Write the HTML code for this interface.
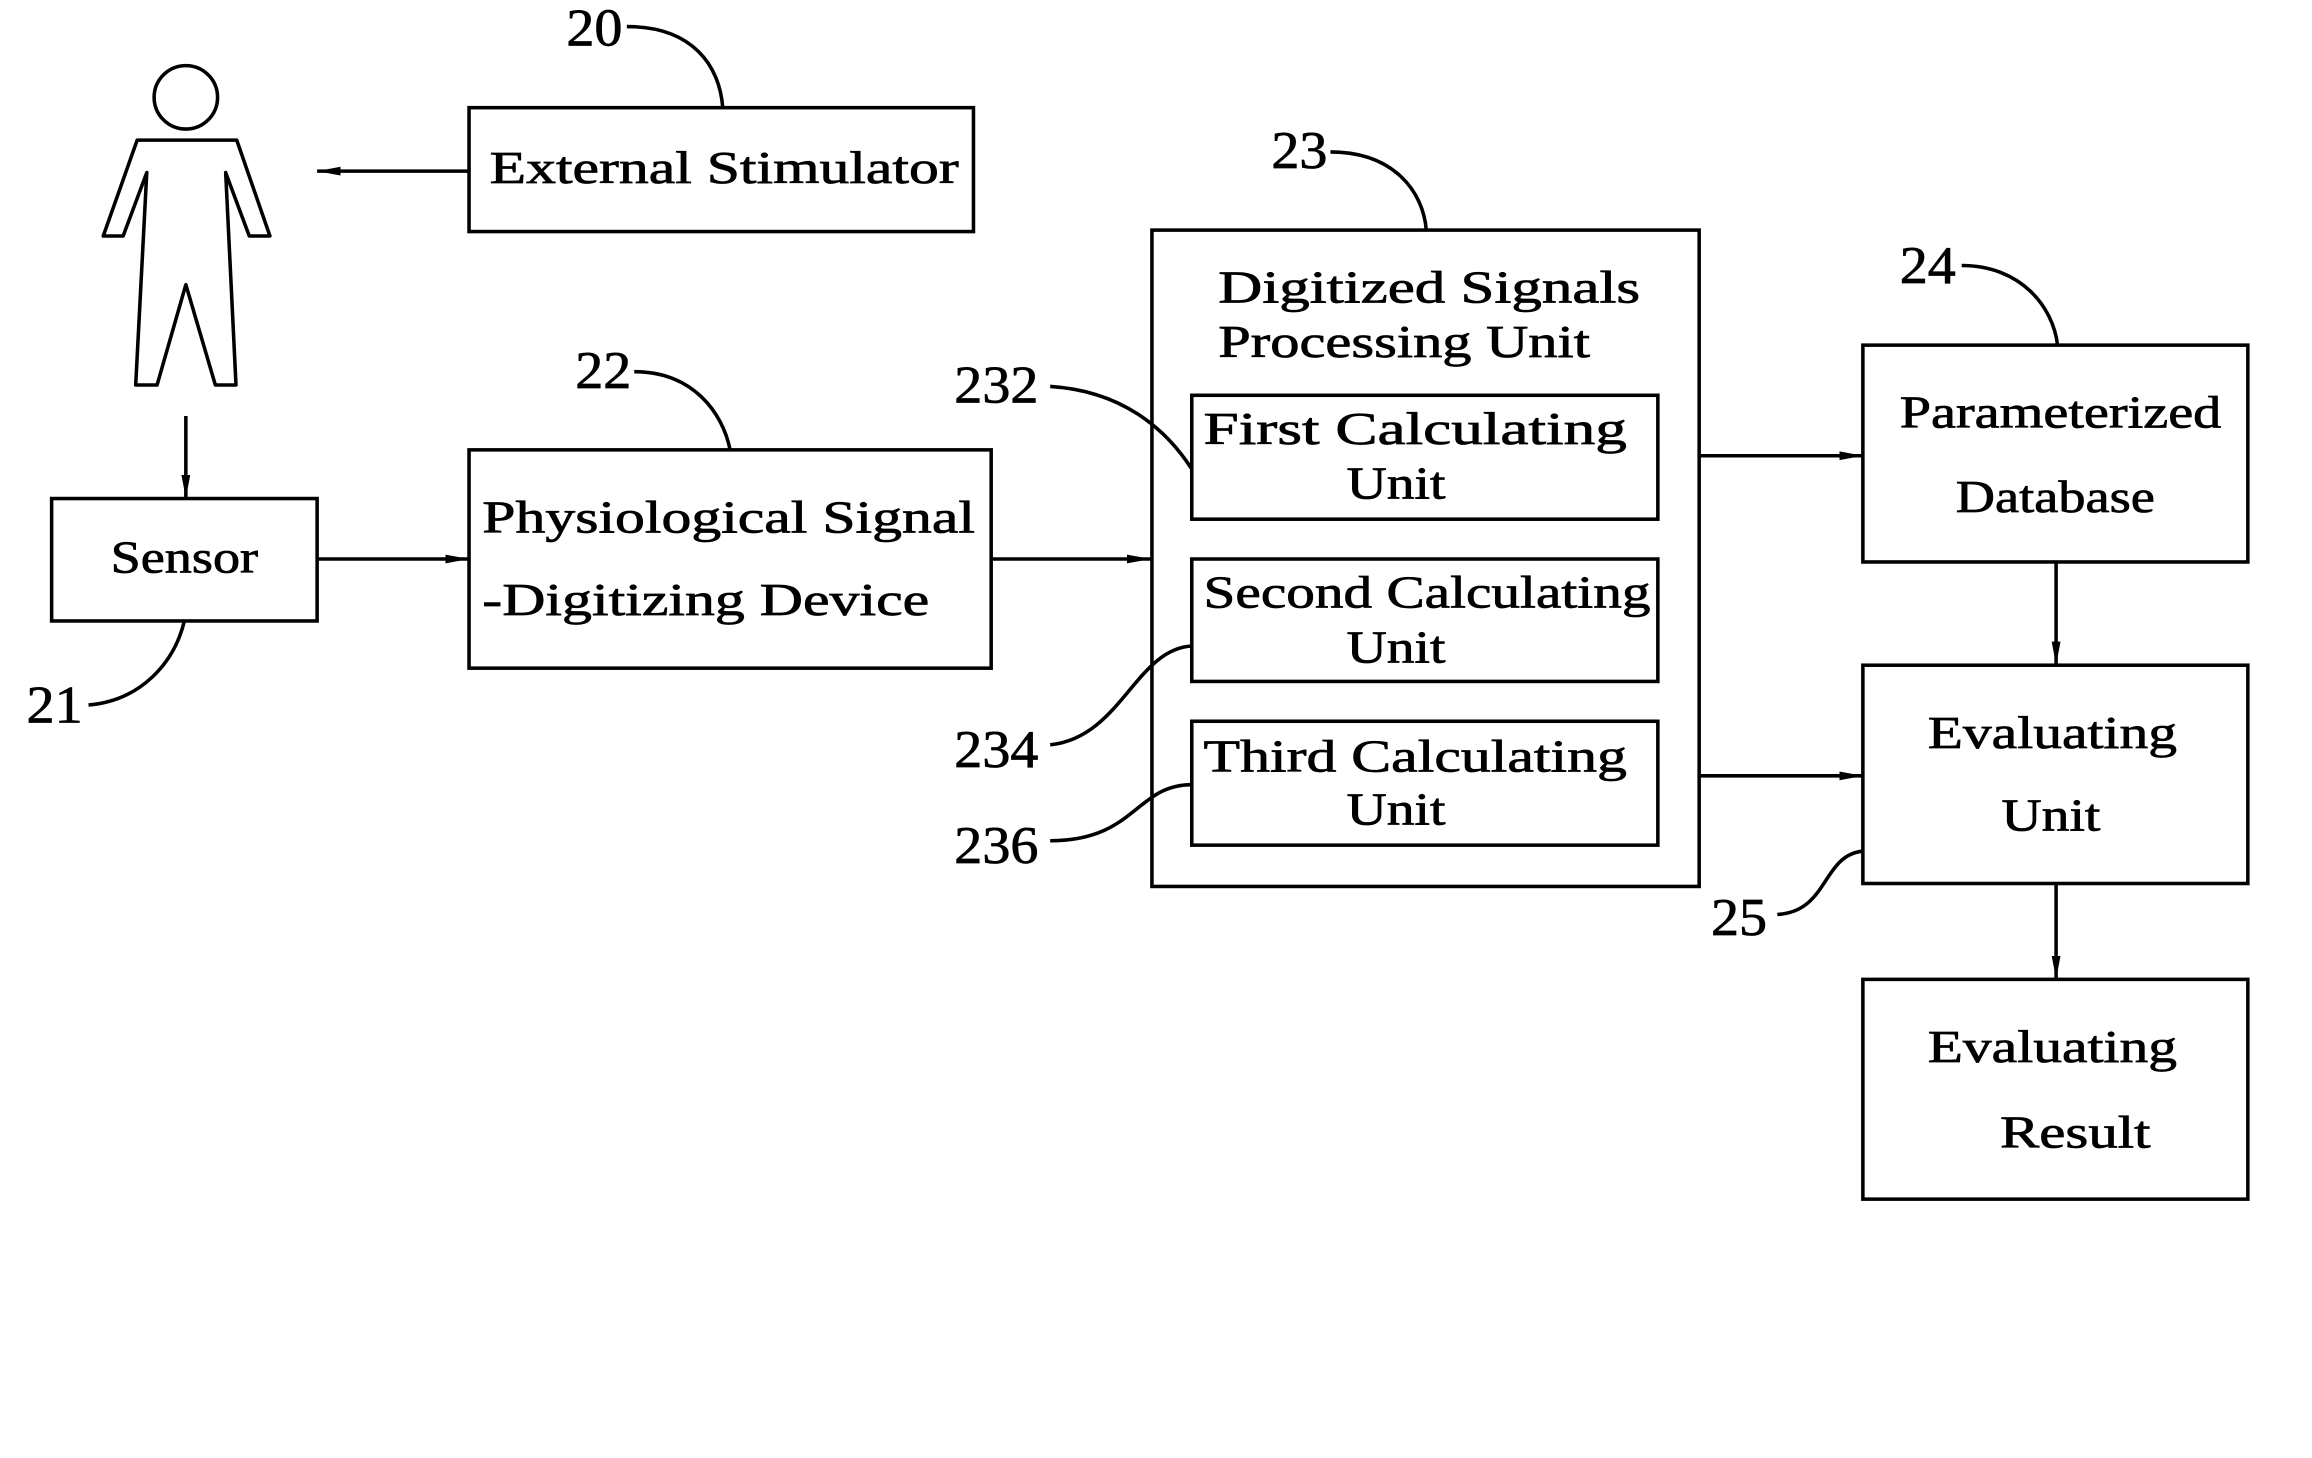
<!DOCTYPE html>
<html><head><meta charset="utf-8"><style>
html,body{margin:0;padding:0;background:#fff;}
svg{display:block;}
text{font-family:"Liberation Serif",serif;fill:#000;stroke:#000;stroke-width:0.5;}
.n{font-size:36px;}
.t{font-size:31px;}
</style></head><body>
<svg width="2312" height="1458" viewBox="0 0 1567.5 988.5" xmlns="http://www.w3.org/2000/svg">
<defs><marker id="a" markerWidth="16" markerHeight="8" refX="16" refY="4" orient="auto" markerUnits="userSpaceOnUse"><path d="M0,1 L16,4 L0,7 Z" fill="#000"/></marker></defs>
<g fill="none" stroke="#000" stroke-width="2.4">
<circle cx="126" cy="66" r="21.5"/>
<path d="M93,95 L160.5,95 L183,160 L169,160 L153,117 L160,261 L146,261 L126,193 L106.5,261 L92,261 L99.5,117 L83.5,160 L70,160 Z" stroke-linejoin="round"/>
<rect x="318" y="73" width="342" height="84"/>
<rect x="35" y="338" width="180" height="83"/>
<rect x="318" y="305" width="354" height="148"/>
<rect x="781" y="156" width="371" height="445"/>
<rect x="808" y="268" width="316" height="84"/>
<rect x="808" y="379" width="316" height="83"/>
<rect x="808" y="489" width="316" height="84"/>
<rect x="1263" y="234" width="261" height="147"/>
<rect x="1263" y="451" width="261" height="148"/>
<rect x="1263" y="664" width="261" height="149"/>
<path d="M318,116 L215,116" marker-end="url(#a)"/>
<path d="M126,282 L126,338" marker-end="url(#a)"/>
<path d="M215,379 L318,379" marker-end="url(#a)"/>
<path d="M672,379 L780,379" marker-end="url(#a)"/>
<path d="M1152,309 L1263,309" marker-end="url(#a)"/>
<path d="M1152,526 L1263,526" marker-end="url(#a)"/>
<path d="M1394,381 L1394,451" marker-end="url(#a)"/>
<path d="M1394,599 L1394,664" marker-end="url(#a)"/>
<path d="M425,18 C470,18 488,45 490,73"/>
<path d="M60,478 C95,475 118,450 125,421"/>
<path d="M430,252 C470,252 490,280 495,305"/>
<path d="M902,103 C945,103 965,130 967,156"/>
<path d="M712,262 C760,265 790,290 808,318"/>
<path d="M712,505 C760,500 770,440 808,438"/>
<path d="M712,570 C770,570 770,532 808,532"/>
<path d="M1330,180 C1370,180 1392,208 1395,234"/>
<path d="M1205,620 C1240,618 1235,580 1263,577"/>
</g>
<text class="n" x="384" y="31" textLength="38" lengthAdjust="spacingAndGlyphs">20</text>
<text class="n" x="18" y="490" textLength="38" lengthAdjust="spacingAndGlyphs">21</text>
<text class="n" x="390" y="263" textLength="38" lengthAdjust="spacingAndGlyphs">22</text>
<text class="n" x="862" y="114" textLength="38" lengthAdjust="spacingAndGlyphs">23</text>
<text class="n" x="1288" y="192" textLength="38" lengthAdjust="spacingAndGlyphs">24</text>
<text class="n" x="1160" y="634" textLength="38" lengthAdjust="spacingAndGlyphs">25</text>
<text class="n" x="647" y="273" textLength="57" lengthAdjust="spacingAndGlyphs">232</text>
<text class="n" x="647" y="520" textLength="57" lengthAdjust="spacingAndGlyphs">234</text>
<text class="n" x="647" y="585" textLength="57" lengthAdjust="spacingAndGlyphs">236</text>
<text class="t" x="332" y="124" textLength="318" lengthAdjust="spacingAndGlyphs">External Stimulator</text>
<text class="t" x="75" y="388" textLength="100" lengthAdjust="spacingAndGlyphs">Sensor</text>
<text class="t" x="327" y="361" textLength="334" lengthAdjust="spacingAndGlyphs">Physiological Signal</text>
<text class="t" x="327" y="417" textLength="303" lengthAdjust="spacingAndGlyphs">-Digitizing Device</text>
<text class="t" x="826" y="205" textLength="286" lengthAdjust="spacingAndGlyphs">Digitized Signals</text>
<text class="t" x="826" y="242" textLength="252" lengthAdjust="spacingAndGlyphs">Processing Unit</text>
<text class="t" x="816" y="301" textLength="287" lengthAdjust="spacingAndGlyphs">First Calculating</text>
<text class="t" x="913" y="338" textLength="67" lengthAdjust="spacingAndGlyphs">Unit</text>
<text class="t" x="816" y="412" textLength="303" lengthAdjust="spacingAndGlyphs">Second Calculating</text>
<text class="t" x="913" y="449" textLength="67" lengthAdjust="spacingAndGlyphs">Unit</text>
<text class="t" x="816" y="523" textLength="287" lengthAdjust="spacingAndGlyphs">Third Calculating</text>
<text class="t" x="913" y="559" textLength="67" lengthAdjust="spacingAndGlyphs">Unit</text>
<text class="t" x="1288" y="290" textLength="218" lengthAdjust="spacingAndGlyphs">Parameterized</text>
<text class="t" x="1326" y="347" textLength="135" lengthAdjust="spacingAndGlyphs">Database</text>
<text class="t" x="1307" y="507" textLength="169" lengthAdjust="spacingAndGlyphs">Evaluating</text>
<text class="t" x="1357" y="563" textLength="67" lengthAdjust="spacingAndGlyphs">Unit</text>
<text class="t" x="1307" y="720" textLength="169" lengthAdjust="spacingAndGlyphs">Evaluating</text>
<text class="t" x="1356" y="778" textLength="102" lengthAdjust="spacingAndGlyphs">Result</text>
</svg>
</body></html>
